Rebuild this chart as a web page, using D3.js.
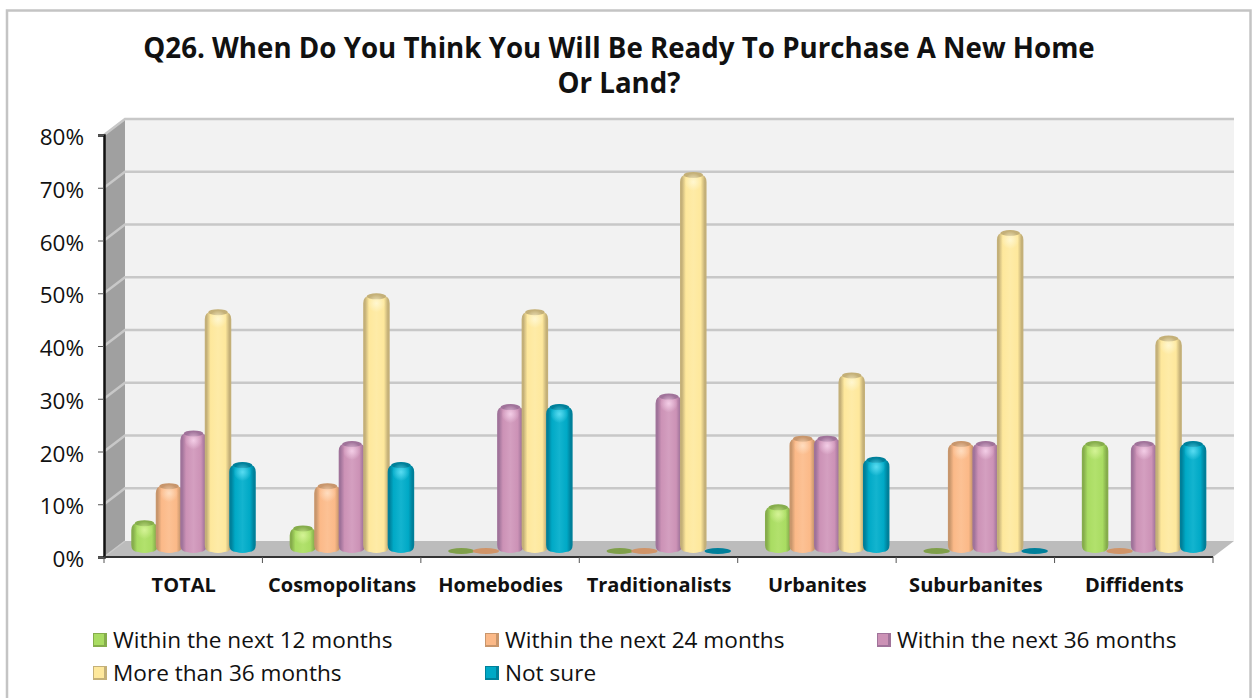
<!DOCTYPE html>
<html><head><meta charset="utf-8">
<script src="https://cdnjs.cloudflare.com/ajax/libs/d3/7.8.5/d3.min.js"></script>
<style>html,body{margin:0;padding:0;background:#fff}svg{display:block}text{font-family:"Open Sans",sans-serif;fill:#111}</style>
</head><body><svg id="c" width="1255" height="698"></svg>
<script>
const categories=["TOTAL","Cosmopolitans","Homebodies","Traditionalists","Urbanites","Suburbanites","Diffidents"];
const seriesNames=["Within the next 12 months","Within the next 24 months","Within the next 36 months","More than 36 months","Not sure"];
const within12=[5,4,0,0,8,0,20];
const within24=[12,12,0,0,21,20,0];
const within36=[22,20,27,29,21,20,20];
const moreThan36=[45,48,45,71,33,60,40];
const notSure=[16,16,27,0,17,0,20];
const seriesValues=[within12,within24,within36,moreThan36,notSure];
const yTicks=[0,10,20,30,40,50,60,70,80];
const palette=[
 {m:"#a9dc62",d:"#86ad4c",l:"#d8f59a",flat:"#7f9f4a"},
 {m:"#fbb988",d:"#c8966c",l:"#ffe0c4",flat:"#d09468"},
 {m:"#cc92b6",d:"#a0739a",l:"#f6d2ea",flat:"#a8708f"},
 {m:"#fee89c",d:"#c4b078",l:"#fff8d4",flat:"#c8b26c"},
 {m:"#00a9c6",d:"#00809a",l:"#5fe0f5",flat:"#007f9a"}];

const svg=d3.select("#c");
const X0=104,X1=1213,Y0=557,Y80=135,DX=21,DY=-16;
const y=d3.scaleLinear().domain([0,80]).range([Y0,Y80]);
const x=d3.scaleBand().domain(categories).range([X0,X1]);
const bx=d3.scaleBand().domain(d3.range(5)).range([0,122.5]);

const defs=svg.append("defs");
palette.forEach((p,i)=>{
  const g=defs.append("linearGradient").attr("id","bar"+i).attr("x1",0).attr("x2",1).attr("y1",0).attr("y2",0);
  [[0,p.d],[.07,p.d],[.22,p.m],[.5,d3.interpolateRgb(p.m,p.l)(.2)],[.78,p.m],[.93,p.d],[1,p.d]].forEach(s=>{
    g.append("stop").attr("offset",s[0]).attr("stop-color",s[1]);
  });
  const r=defs.append("radialGradient").attr("id","hl"+i);
  r.append("stop").attr("offset",0).attr("stop-color",p.l).attr("stop-opacity",.9);
  r.append("stop").attr("offset",1).attr("stop-color",p.l).attr("stop-opacity",0);
});

// frame
svg.append("rect").attr("x",7).attr("y",10.5).attr("width",1243.5).attr("height",700).attr("fill","#fff").attr("stroke","#c4c4c4").attr("stroke-width",2.5);

// title
const title=svg.append("g").attr("text-anchor","middle").style("font-weight",700).style("font-size","27.7px");
title.append("text").attr("x",619).attr("y",58).text("Q26. When Do You Think You Will Be Ready To Purchase A New Home");
title.append("text").attr("x",619).attr("y",93).text("Or Land?");

// walls
const poly=(pts,fill)=>svg.append("polygon").attr("points",pts.map(p=>p.join(",")).join(" ")).attr("fill",fill);
poly([[X0+DX,y(0)+DY],[X1+DX,y(0)+DY],[X1+DX,y(80)+DY],[X0+DX,y(80)+DY]],"#f2f2f2");
poly([[X0,y(0)],[X0+DX,y(0)+DY],[X0+DX,y(80)+DY],[X0,y(80)]],"#a0a0a0");
poly([[X0,y(0)],[X1,y(0)],[X1+DX,y(0)+DY],[X0+DX,y(0)+DY]],"#bcbcbc");

// gridlines
yTicks.forEach(t=>{
  svg.append("polyline").attr("fill","none").attr("stroke","#c8c8c8").attr("stroke-width",t?2.5:1.5)
    .attr("points",t?`${X0},${y(t)} ${X0+DX},${y(t)+DY} ${X1+DX},${y(t)+DY}`:`${X0},${y(t)} ${X0+DX},${y(t)+DY}`);
});

// axes
const yAxis=svg.append("g").attr("transform",`translate(${X0},0)`).call(d3.axisLeft(y).tickValues(yTicks).tickFormat(d=>d+"%").tickSize(6).tickPadding(14));
yAxis.select(".domain").attr("stroke","#111").attr("stroke-width",2.5);
yAxis.selectAll(".tick line").attr("stroke","#555");
yAxis.selectAll("text").style("font-size","22.5px").style("font-family",'"Open Sans",sans-serif').attr("fill","#111").attr("dy","0.43em");
svg.append("line").attr("x1",X0).attr("x2",X1).attr("y1",Y0).attr("y2",Y0).attr("stroke","#333").attr("stroke-width",2);
[...categories.map(c=>x(c)),X1].forEach(v=>svg.append("line").attr("x1",v).attr("x2",v).attr("y1",Y0).attr("y2",Y0+6).attr("stroke","#555"));
svg.append("g").attr("text-anchor","middle").selectAll("text").data(categories).join("text")
  .attr("x",c=>x(c)+x.bandwidth()/2+.5).attr("y",592).style("font-weight",700).style("font-size","20px").text(c=>c);

// bars
const BW=26.5, RX=BW/2, BASE=5, LIFT=2.5;
categories.forEach((c,ci)=>{
  const g=svg.append("g");
  seriesValues.forEach((vals,si)=>{
    const v=vals[ci], p=palette[si];
    const cx=x(c)+x.bandwidth()/2+10.3-61.25+bx(si)+bx.bandwidth()/2;
    const b=y(0)-BASE, top=y(v)-BASE-LIFT;
    if(v===0){
      if(si===3) return;
      g.append("ellipse").attr("cx",cx).attr("cy",b-1).attr("rx",RX).attr("ry",3).attr("fill",p.flat);
      return;
    }
    const r=7;
    g.append("path").attr("fill",`url(#bar${si})`)
      .attr("d",`M${cx-RX},${top+r} Q${cx-RX},${top} ${cx-RX+r},${top-1} Q${cx},${top-4} ${cx+RX-r},${top-1} Q${cx+RX},${top} ${cx+RX},${top+r} L${cx+RX},${b-r} Q${cx+RX},${b} ${cx+RX-r},${b} Q${cx},${b+2} ${cx-RX+r},${b} Q${cx-RX},${b} ${cx-RX},${b-r} Z`);
    g.append("ellipse").attr("cx",cx).attr("cy",top).attr("rx",RX-3.5).attr("ry",3).attr("fill",p.d);
    g.append("ellipse").attr("cx",cx).attr("cy",top+7).attr("rx",9).attr("ry",9).attr("fill",`url(#hl${si})`);
  });
});

// legend
const legendPos=[[93,640],[485,640],[877,640],[93,673],[485,673]];
const lg=svg.append("g");
seriesNames.forEach((n,i)=>{
  const [lx,ly]=legendPos[i],p=palette[i];
  lg.append("rect").attr("x",lx).attr("y",ly-7).attr("width",14).attr("height",14).attr("fill",p.d);
  lg.append("rect").attr("x",lx+1).attr("y",ly-6).attr("width",10).attr("height",11).attr("fill",p.m);
  lg.append("text").attr("x",lx+20).attr("y",ly+8).style("font-size","22.6px").text(n);
});
</script></body></html>
